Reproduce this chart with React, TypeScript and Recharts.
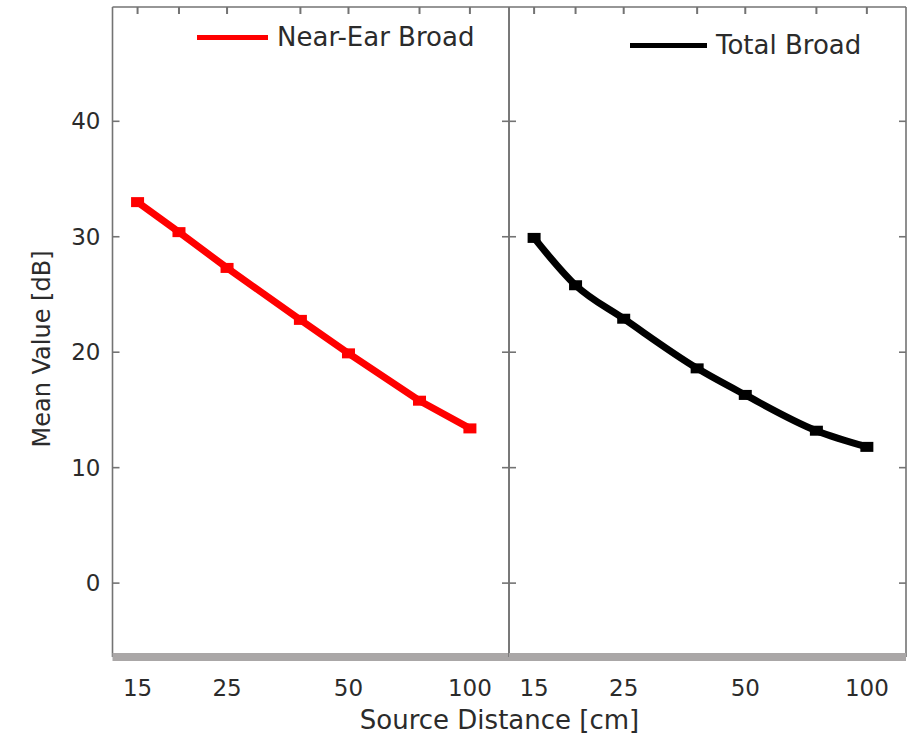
import React from 'react';
import { ComposedChart, Line, Scatter, XAxis, YAxis, Legend } from 'recharts';

// ---- data ----
const distances = [15, 19, 25, 38, 50, 75, 100];
const nearEarBroad = [33.0, 30.4, 27.3, 22.8, 19.9, 15.8, 13.4];
const totalBroad = [29.9, 25.8, 22.9, 18.6, 16.3, 13.2, 11.8];
const xTickLabels = [15, 25, 50, 100];
const yTickLabels = [0, 10, 20, 30, 40];
const xDomain: [number, number] = [13, 125];
const yDomain: [number, number] = [-6.4, 49.9];
const seriesNames = ['Near-Ear Broad', 'Total Broad'];
const xTitle = 'Source Distance [cm]';
const yTitle = 'Mean Value [dB]';

const nearData = distances.map((d, i) => ({ distance: d, value: nearEarBroad[i] }));
const totalData = distances.map((d, i) => ({ distance: d, value: totalBroad[i] }));
const topTickData = distances.map((d) => ({ distance: d, edge: yDomain[1] }));

const FONT = "'DejaVu Sans', 'Liberation Sans', sans-serif";
const TEXT = '#2b2b2b';
const BORDER = '#737373';
const BAR = '#aaa7a7';

const noLabel = (props: any) => <g key={`nl-${props.index}`} />;

const topTickShape = (props: any) => (
  <line
    x1={props.cx}
    x2={props.cx}
    y1={props.cy}
    y2={props.cy + 7}
    stroke={BORDER}
    strokeWidth={2}
  />
);

const makeLegend = (lineWidth: number) => (props: any) => {
  const payload = (props.payload || []).filter((e: any) => e.type !== 'none');
  return (
    <div>
      {payload.map((entry: any, i: number) => (
        <div
          key={i}
          style={{
            display: 'flex',
            alignItems: 'center',
            fontFamily: FONT,
            fontSize: 26,
            lineHeight: '26px',
            color: TEXT,
            whiteSpace: 'nowrap',
          }}
        >
          <span
            style={{
              display: 'inline-block',
              width: lineWidth,
              height: 5,
              background: entry.color,
              marginRight: 9,
            }}
          />
          <span>{entry.value}</span>
        </div>
      ))}
    </div>
  );
};

const renderYTitle = (props: any) => {
  const vb = props.viewBox || {};
  const cx = vb.x + vb.width - 62.5;
  const cy = vb.y + vb.height / 2 + 17;
  return (
    <text
      x={cx}
      y={cy}
      transform={`rotate(-90, ${cx}, ${cy})`}
      textAnchor="middle"
      fontFamily={FONT}
      fontSize={24}
      fill={TEXT}
    >
      {yTitle}
    </text>
  );
};

const renderXTitle = (props: any) => {
  const vb = props.viewBox || {};
  return (
    <text
      x={vb.x + vb.width - 9.5}
      y={vb.y + 72}
      textAnchor="middle"
      fontFamily={FONT}
      fontSize={26}
      fill={TEXT}
    >
      {xTitle}
    </text>
  );
};

type PanelProps = {
  data: any[];
  name: string;
  color: string;
  curve: any;
  plotLeft: number;
  plotRight: number;
  showY: boolean;
  showXTitle: boolean;
  legendLeft: number;
  legendTop: number;
  legendLineWidth: number;
};

const PLOT_TOP = 7;
const PLOT_BOTTOM = 657;

function Panel(p: PanelProps) {
  const tickStyle = { fontFamily: FONT, fontSize: 23, fill: TEXT };
  const margin = {
    top: PLOT_TOP - 1,
    left: p.plotLeft - 1,
    right: 918 - p.plotRight,
    bottom: 738 - PLOT_BOTTOM - 1,
  };
  return (
    <div style={{ position: 'absolute', left: 0, top: 0 }}>
      <ComposedChart width={918} height={738} data={p.data} margin={margin}>
        <YAxis
          yAxisId="l"
          orientation="left"
          width={1}
          type="number"
          domain={yDomain}
          allowDataOverflow
          ticks={yTickLabels}
          interval={0}
          tick={p.showY ? tickStyle : false}
          tickLine={false}
          axisLine={false}
          tickSize={0}
          tickMargin={12}
          label={p.showY ? renderYTitle : undefined}
        />
        <XAxis
          xAxisId="b"
          dataKey="distance"
          type="number"
          scale="log"
          domain={xDomain}
          allowDataOverflow
          ticks={xTickLabels}
          interval={0}
          tick={tickStyle}
          tickLine={false}
          tickSize={0}
          tickMargin={23}
          height={1}
          axisLine={false}
          label={p.showXTitle ? renderXTitle : undefined}
        />
        <XAxis
          xAxisId="t"
          orientation="top"
          type="number"
          domain={xDomain}
          allowDataOverflow
          ticks={[]}
          tick={false}
          tickLine={false}
          height={1}
          axisLine={{ stroke: BORDER, strokeWidth: 1.6 }}
        />
        <YAxis
          yAxisId="lm"
          orientation="left"
          mirror
          width={2}
          type="number"
          domain={yDomain}
          allowDataOverflow
          ticks={yTickLabels}
          interval={0}
          tick={noLabel}
          tickSize={7}
          axisLine={{ stroke: BORDER, strokeWidth: 1.6 }}
          tickLine={{ stroke: BORDER, strokeWidth: 1.6 }}
        />
        <YAxis
          yAxisId="rm"
          orientation="right"
          mirror
          width={2}
          type="number"
          domain={yDomain}
          allowDataOverflow
          ticks={yTickLabels}
          interval={0}
          tick={noLabel}
          tickSize={7}
          axisLine={{ stroke: BORDER, strokeWidth: 1.6 }}
          tickLine={{ stroke: BORDER, strokeWidth: 1.6 }}
        />
        <XAxis
          xAxisId="bar"
          orientation="bottom"
          mirror
          type="number"
          domain={xDomain}
          allowDataOverflow
          ticks={[]}
          tick={false}
          tickLine={false}
          height={2}
          axisLine={{ stroke: BAR, strokeWidth: 8 }}
        />
        <Scatter
          xAxisId="b"
          yAxisId="l"
          data={topTickData}
          dataKey="edge"
          name="top-ticks"
          legendType="none"
          shape={topTickShape}
          isAnimationActive={false}
        />
        <Line
          xAxisId="b"
          yAxisId="l"
          dataKey="value"
          name={p.name}
          stroke={p.color}
          strokeWidth={7}
          type={p.curve}
          isAnimationActive={false}
          dot={(d: any) => (
            <rect
              key={`dot-${d.index}`}
              x={d.cx - 6.5}
              y={d.cy - 5}
              width={13}
              height={10}
              fill={p.color}
            />
          )}
          activeDot={false}
        />
        <Legend
          layout="horizontal"
          verticalAlign="middle"
          align="center"
          content={makeLegend(p.legendLineWidth)}
          wrapperStyle={{ left: p.legendLeft, top: p.legendTop, width: 330, height: 26 }}
        />
      </ComposedChart>
    </div>
  );
}

export default function App() {
  return (
    <div
      style={{
        position: 'absolute',
        left: 0,
        top: 0,
        width: 918,
        height: 738,
        background: '#ffffff',
        overflow: 'hidden',
      }}
    >
      <Panel
        data={nearData}
        name={seriesNames[0]}
        color="#ff0000"
        curve="linear"
        plotLeft={112.5}
        plotRight={509}
        showY
        showXTitle
        legendLeft={197}
        legendTop={24}
        legendLineWidth={71}
      />
      <Panel
        data={totalData}
        name={seriesNames[1]}
        color="#000000"
        curve="monotone"
        plotLeft={509}
        plotRight={906}
        showY={false}
        showXTitle={false}
        legendLeft={630}
        legendTop={32}
        legendLineWidth={77}
      />
    </div>
  );
}
